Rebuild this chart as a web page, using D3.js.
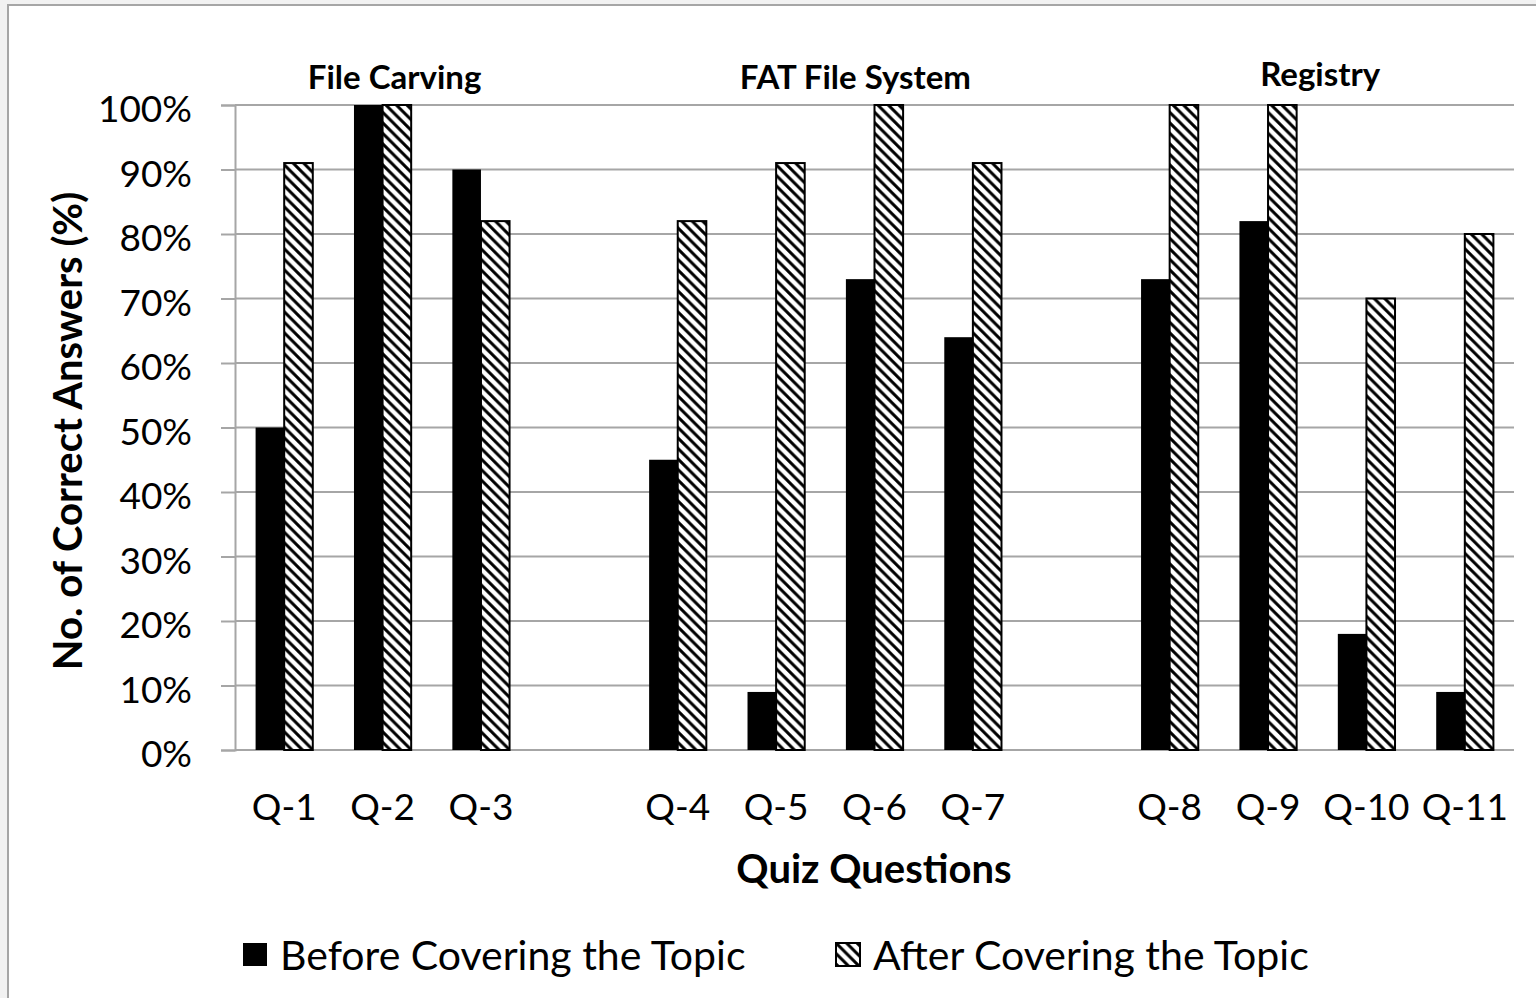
<!DOCTYPE html>
<html>
<head>
<meta charset="utf-8">
<script src="https://cdn.jsdelivr.net/npm/d3@7"></script>
<style>
  html, body { margin: 0; padding: 0; background: #f2f2f2; }
  svg { display: block; }
  text { font-family: Lato, "Open Sans", sans-serif; fill: #000; }
</style>
</head>
<body>
<svg id="chart" width="1536" height="998"></svg>
<script>
// ---- data ----
const slots = ["Q-1", "Q-2", "Q-3", "gap-1", "Q-4", "Q-5", "Q-6", "Q-7", "gap-2", "Q-8", "Q-9", "Q-10", "Q-11"];
const questions = ["Q-1", "Q-2", "Q-3", "Q-4", "Q-5", "Q-6", "Q-7", "Q-8", "Q-9", "Q-10", "Q-11"];
const beforeValues = [50, 100, 90, 45, 9, 73, 64, 73, 82, 18, 9];
const afterValues = [91, 100, 82, 82, 91, 100, 91, 100, 100, 70, 80];
const seriesNames = ["Before Covering the Topic", "After Covering the Topic"];
const yTicks = [0, 10, 20, 30, 40, 50, 60, 70, 80, 90, 100];
const groupNames = ["File Carving", "FAT File System", "Registry"];
const groupMembers = [["Q-1", "Q-2", "Q-3"], ["Q-4", "Q-5", "Q-6", "Q-7"], ["Q-8", "Q-9", "Q-10", "Q-11"]];

// ---- layout ----
const svg = d3.select("#chart");
const plotLeft = 235, plotRight = 1514, plotTop = 105, plotBottom = 750;

// outer frame
svg.append("rect").attr("x", 8).attr("y", 5).attr("width", 1560).attr("height", 1020)
  .attr("fill", "#fff").attr("stroke", "#a6a6a6").attr("stroke-width", 2);

// hatch pattern
const P = 10.5;
const defs = svg.append("defs");
const pat = defs.append("pattern").attr("id", "hatch").attr("patternUnits", "userSpaceOnUse")
  .attr("width", P).attr("height", P);
pat.append("rect").attr("width", P).attr("height", P).attr("fill", "#fff");
pat.append("path").attr("d", `M-2,-2 L${P + 2},${P + 2} M${-P - 2},-2 L2,${P + 2} M${P - 2},-2 L${2 * P + 2},${P + 2}`)
  .attr("stroke", "#000").attr("stroke-width", 3.0);

const x = d3.scaleBand().domain(slots).range([plotLeft, plotRight]).paddingInner(0).paddingOuter(0);
const inner = d3.scaleBand().domain([0, 1]).range([0, x.bandwidth()]).paddingInner(0).paddingOuter(0.72);
const y = d3.scaleLinear().domain([0, 100]).range([plotBottom, plotTop]);

// gridlines + y axis
const yAxis = d3.axisLeft(y).tickValues(yTicks).tickSize(14).tickFormat(d => d + "%");
const yG = svg.append("g").attr("transform", `translate(${plotLeft},0)`).call(yAxis);
yG.select(".domain").attr("stroke", "#a6a6a6").attr("stroke-width", 2);
yG.selectAll(".tick line").attr("stroke", "#a6a6a6").attr("stroke-width", 2);
yG.selectAll(".tick text").attr("font-size", 37).attr("x", -43).attr("dy", "0.45em");

svg.append("g").selectAll("line").data(yTicks).join("line")
  .attr("x1", plotLeft).attr("x2", plotRight)
  .attr("y1", d => y(d)).attr("y2", d => y(d))
  .attr("stroke", "#a6a6a6").attr("stroke-width", 2);

// bars
const data = questions.map((q, i) => ({ q, vals: [beforeValues[i], afterValues[i]] }));
const bars = svg.append("g").selectAll("g").data(data).join("g")
  .attr("transform", d => `translate(${x(d.q)},0)`);
bars.append("rect")
  .attr("x", inner(0)).attr("width", inner.bandwidth())
  .attr("y", d => y(d.vals[0])).attr("height", d => y(0) - y(d.vals[0]))
  .attr("fill", "#000");
bars.append("rect")
  .attr("x", inner(1)).attr("width", inner.bandwidth())
  .attr("y", d => y(d.vals[1])).attr("height", d => y(0) - y(d.vals[1]))
  .attr("fill", "url(#hatch)").attr("stroke", "#000").attr("stroke-width", 2);

// x axis labels
const xAxis = d3.axisBottom(x).tickValues(questions).tickSize(0).tickPadding(44);
const xG = svg.append("g").attr("transform", `translate(0,${plotBottom})`).call(xAxis);
xG.select(".domain").remove();
xG.selectAll(".tick text").attr("font-size", 37);

// group labels
const groupOffsets = [12, 30, 3];
const groupY = [89, 89, 86];
groupNames.forEach((g, i) => {
  const m = groupMembers[i];
  const cx = (x(m[0]) + x(m[m.length - 1]) + x.bandwidth()) / 2 + groupOffsets[i];
  svg.append("text").attr("x", cx).attr("y", groupY[i]).attr("text-anchor", "middle")
    .attr("font-size", 33).attr("font-weight", "bold").text(g);
});

// axis titles
svg.append("text").attr("transform", `translate(82,431) rotate(-90)`).attr("text-anchor", "middle")
  .attr("font-size", 40).attr("font-weight", "bold").text("No. of Correct Answers (%)");
svg.append("text").attr("x", 874).attr("y", 883).attr("text-anchor", "middle")
  .attr("font-size", 40).attr("font-weight", "bold").text("Quiz Questions");

// legend
const legX = [243, 836];
const leg = svg.append("g").selectAll("g").data(seriesNames).join("g")
  .attr("transform", (d, i) => `translate(${legX[i]},943)`);
leg.append("rect").attr("width", 24).attr("height", 23)
  .attr("fill", (d, i) => i === 0 ? "#000" : "url(#hatch)")
  .attr("stroke", (d, i) => i === 0 ? "none" : "#000").attr("stroke-width", 2);
leg.append("text").attr("x", 37).attr("y", 27).attr("font-size", 41).text(d => d);
</script>
</body>
</html>
